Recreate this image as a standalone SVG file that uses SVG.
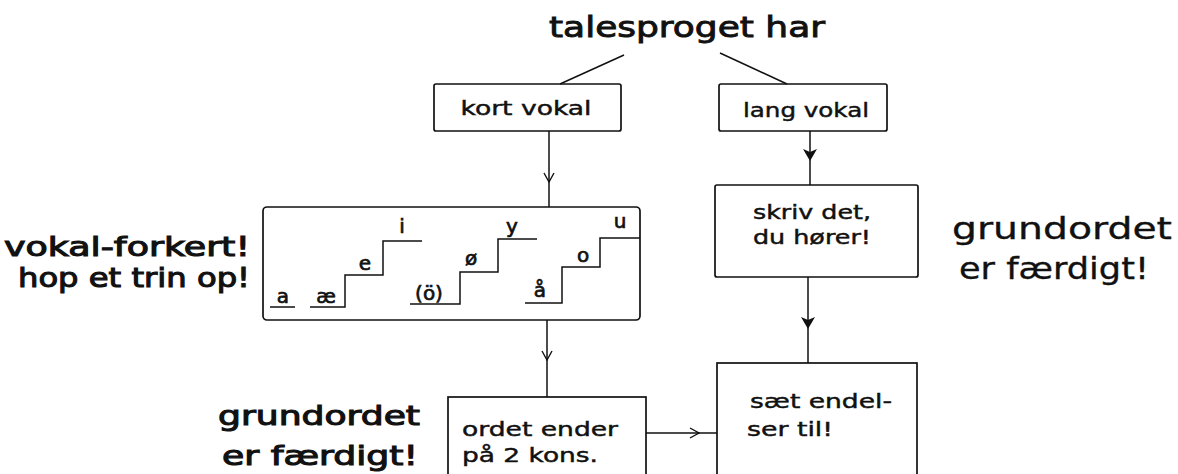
<svg xmlns="http://www.w3.org/2000/svg" width="1178" height="474" viewBox="0 0 1178 474">
  <style>
    .box { fill: none; stroke: #111; stroke-width: 1.7; }
    .ln { fill: none; stroke: #111; stroke-width: 1.5; }
    .txt { font-family: "DejaVu Sans", Verdana, sans-serif; fill: #111; stroke: #111; }
    .boxtxt { font-size: 20px; stroke-width: 0.45; }
    .head { font-size: 29px; stroke-width: 0.9; }
    .big { font-size: 27px; stroke-width: 1.1; }
    .side { font-size: 30px; stroke-width: 0.35; }
    .vow { font-size: 20px; stroke-width: 0.7; }
  </style>
  <defs>
    <marker id="open" viewBox="0 0 12 12" refX="11" refY="6" markerWidth="12" markerHeight="12" markerUnits="userSpaceOnUse" orient="auto">
      <path d="M2,1 L11,6 L2,11" fill="none" stroke="#111" stroke-width="1.4"/>
    </marker>
  </defs>

  <rect width="1178" height="474" fill="#fff"/>

  <!-- heading -->
  <g id="title">
    <text class="txt head" x="687" y="37" text-anchor="middle" textLength="276" lengthAdjust="spacingAndGlyphs">talesproget har</text>
  </g>

  <!-- left branch -->
  <g id="kort-vokal">
    <rect class="box" x="434" y="84" width="187" height="47" rx="2"/>
    <text class="txt boxtxt" x="526" y="115" text-anchor="middle" textLength="131" lengthAdjust="spacingAndGlyphs">kort vokal</text>
  </g>

  <!-- right branch -->
  <g id="lang-vokal">
    <rect class="box" x="719" y="84" width="168" height="47" rx="2"/>
    <text class="txt boxtxt" x="806" y="117" text-anchor="middle" textLength="126" lengthAdjust="spacingAndGlyphs">lang vokal</text>
  </g>

  <!-- staircase of vowels -->
  <g id="vokaltrappe">
    <rect class="box" x="263" y="207" width="377" height="113" rx="4"/>
    <path class="ln" d="M270,307 H295 M310,307 H345 V275 H383 V241 H422"/>
    <path class="ln" d="M410,304 H460 V272 H498 V239 H537"/>
    <path class="ln" d="M525,303 H562 V267 H600 V238 H640"/>
    <text class="txt vow" x="283" y="303" text-anchor="middle">a</text>
    <text class="txt vow" x="326" y="303" text-anchor="middle">æ</text>
    <text class="txt vow" x="365" y="270" text-anchor="middle">e</text>
    <text class="txt vow" x="402" y="233" text-anchor="middle">i</text>
    <text class="txt vow" x="429" y="300" text-anchor="middle">(ö)</text>
    <text class="txt vow" x="471" y="265" text-anchor="middle">ø</text>
    <text class="txt vow" x="512" y="233" text-anchor="middle">y</text>
    <text class="txt vow" x="540" y="297" text-anchor="middle">å</text>
    <text class="txt vow" x="583" y="262" text-anchor="middle">o</text>
    <text class="txt vow" x="620" y="228" text-anchor="middle">u</text>
  </g>

  <g id="vokal-forkert">
    <text class="txt big" x="127" y="256" text-anchor="middle" font-size="25" textLength="246" lengthAdjust="spacingAndGlyphs">vokal-forkert!</text>
    <text class="txt big" x="134" y="287" text-anchor="middle" font-size="25" textLength="232" lengthAdjust="spacingAndGlyphs">hop et trin op!</text>
  </g>

  <g id="skriv-det">
    <rect class="box" x="715" y="185" width="203" height="92" rx="2"/>
    <text class="txt boxtxt" x="812" y="219" text-anchor="middle" textLength="118" lengthAdjust="spacingAndGlyphs">skriv det,</text>
    <text class="txt boxtxt" x="812" y="244" text-anchor="middle" textLength="118" lengthAdjust="spacingAndGlyphs">du hører!</text>
  </g>

  <g id="grundordet-hoejre">
    <text class="txt side" x="1062" y="239" text-anchor="middle" textLength="220" lengthAdjust="spacingAndGlyphs">grundordet</text>
    <text class="txt side" x="1054" y="279" text-anchor="middle" textLength="190" lengthAdjust="spacingAndGlyphs">er færdigt!</text>
  </g>

  <g id="ordet-ender">
    <rect class="box" x="448" y="397" width="198" height="90"/>
    <text class="txt boxtxt" x="540" y="436" text-anchor="middle" textLength="156" lengthAdjust="spacingAndGlyphs">ordet ender</text>
    <text class="txt boxtxt" x="530" y="462" text-anchor="middle" textLength="136" lengthAdjust="spacingAndGlyphs">på 2 kons.</text>
  </g>

  <g id="grundordet-venstre">
    <text class="txt big" x="319" y="425" text-anchor="middle" textLength="202" lengthAdjust="spacingAndGlyphs">grundordet</text>
    <text class="txt big" x="320" y="465" text-anchor="middle" textLength="196" lengthAdjust="spacingAndGlyphs">er færdigt!</text>
  </g>

  <g id="saet-endelser">
    <rect class="box" x="717" y="363" width="200" height="124"/>
    <text class="txt boxtxt" x="750" y="408" textLength="142" lengthAdjust="spacingAndGlyphs">sæt endel-</text>
    <text class="txt boxtxt" x="747" y="436" textLength="86" lengthAdjust="spacingAndGlyphs">ser til!</text>
  </g>

  <!-- connectors -->
  <g id="connectors">
    <path class="ln" d="M624,55 L560,84"/>
    <path class="ln" d="M720,53 L787,84"/>
    <path class="ln" d="M549,131 V182" marker-end="url(#open)"/>
    <path class="ln" d="M549,180 V207"/>
    <path class="ln" d="M547,320 V360" marker-end="url(#open)"/>
    <path class="ln" d="M547,358 V397"/>
    <path class="ln" d="M646,433 H699" marker-end="url(#open)"/>
    <path class="ln" d="M697,433 H717"/>
    <path class="ln" d="M810,131 V185"/>
    <path d="M803,149 L810,152 L817,149 L810,161 Z" fill="#111"/>
    <path class="ln" d="M808,277 V363"/>
    <path d="M801,317 L808,320 L815,317 L808,329 Z" fill="#111"/>
  </g>
</svg>
